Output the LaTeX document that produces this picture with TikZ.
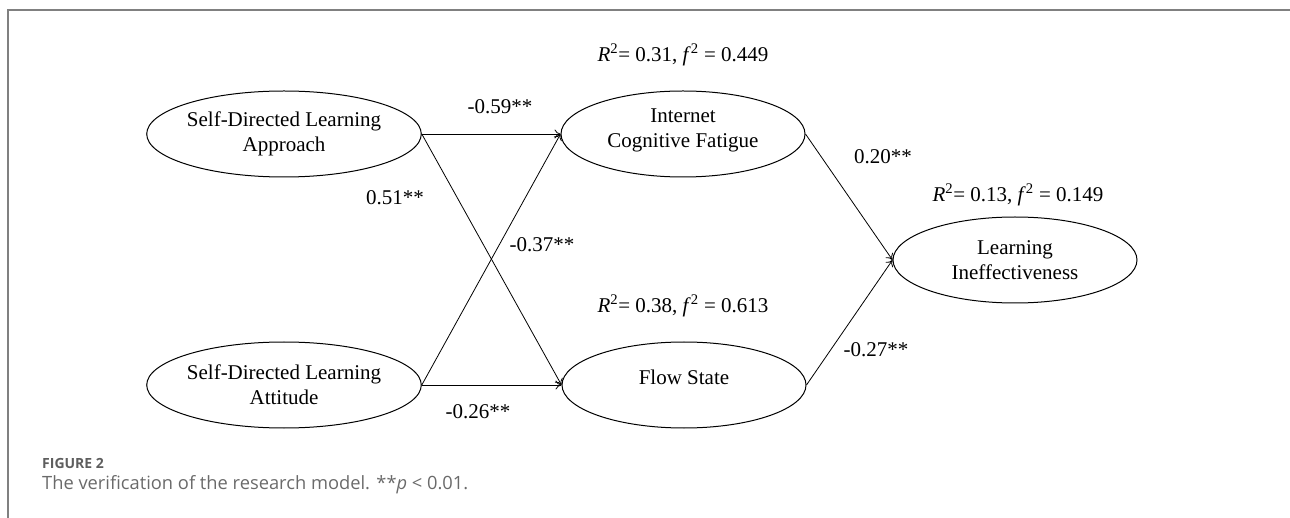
\documentclass[tikz,border=0pt]{standalone}
\usepackage{fontspec}
\setmainfont{Liberation Serif}
\newfontfamily\capfont{Open Sans}
\usetikzlibrary{shapes.geometric,arrows.meta}
\definecolor{framegray}{HTML}{808080}
\definecolor{capgray}{HTML}{5E5E5E}
\definecolor{captext}{HTML}{6A6A6A}
\tikzset{
  latent/.style={draw, ellipse, line width=1pt, minimum width=244pt, minimum height=86pt,
    inner sep=0pt, align=center, font=\fontsize{21}{25}\selectfont},
  path/.style={line width=0.8pt, -{To[length=6pt,width=9pt,line width=0.8pt]}},
  coef/.style={font=\fontsize{21}{25}\selectfont, inner sep=0pt},
  frame/.style={draw=framegray, line width=2pt}
}
\begin{document}
\begin{tikzpicture}[x=1pt,y=-1pt]
\useasboundingbox (0,0) rectangle (1290,518);
\draw[frame] (8,519) -- (8,10) -- (1291,10);
% constructs
\node[latent] (sdla) at (284,134) {Self-Directed Learning\\Approach};
\node[latent] (sdlt) at (284,385) {Self-Directed Learning\\Attitude};
\node[latent] (icf)  at (683,134) {\raisebox{4pt}[\height][\depth]{Internet}\\\raisebox{4pt}[\height][\depth]{Cognitive Fatigue}};
\node[latent] (flow) at (684,385) {\raisebox{8pt}[\height][\depth]{Flow State}};
\node[latent] (li)   at (1015,260) {Learning\\Ineffectiveness};
% paths
\draw[path] (sdla.east) -- (icf.west);
\draw[path] (sdla.east) -- (flow.west);
\draw[path] (sdlt.east) -- (icf.west);
\draw[path] (sdlt.east) -- (flow.west);
\draw[path] (icf.east) -- (li.west);
\draw[path] (flow.east) -- (li.west);
% coefficients
\node[coef] (c1) at (500,107) {-0.59**};
\node[coef] (c2) at (395,198) {0.51**};
\node[coef] (c3) at (542,245) {-0.37**};
\node[coef] (c4) at (478,412) {-0.26**};
\node[coef] (c5) at (883,157) {0.20**};
\node[coef] (c6) at (876,350) {-0.27**};
% R2
\node[coef] (r1) at (683,55) {\textit{R}\textsuperscript{2}= 0.31, \textit{f}\textsuperscript{2} = 0.449};
\node[coef] (r2) at (683,306) {\textit{R}\textsuperscript{2}= 0.38, \textit{f}\textsuperscript{2} = 0.613};
\node[coef] (r3) at (1018,195) {\textit{R}\textsuperscript{2}= 0.13, \textit{f}\textsuperscript{2} = 0.149};
% caption
\node[anchor=base west, inner sep=0pt, text=capgray, font=\capfont\fontsize{14}{16}\selectfont\bfseries] (fig) at (42,468.5) {FIGURE 2};
\node[anchor=base west, inner sep=0pt, text=captext, font=\capfont\fontsize{18.3}{20}\selectfont] (cap) at (42,489) {The verification of the research model. **\textit{p} < 0.01.};
\end{tikzpicture}
\end{document}
